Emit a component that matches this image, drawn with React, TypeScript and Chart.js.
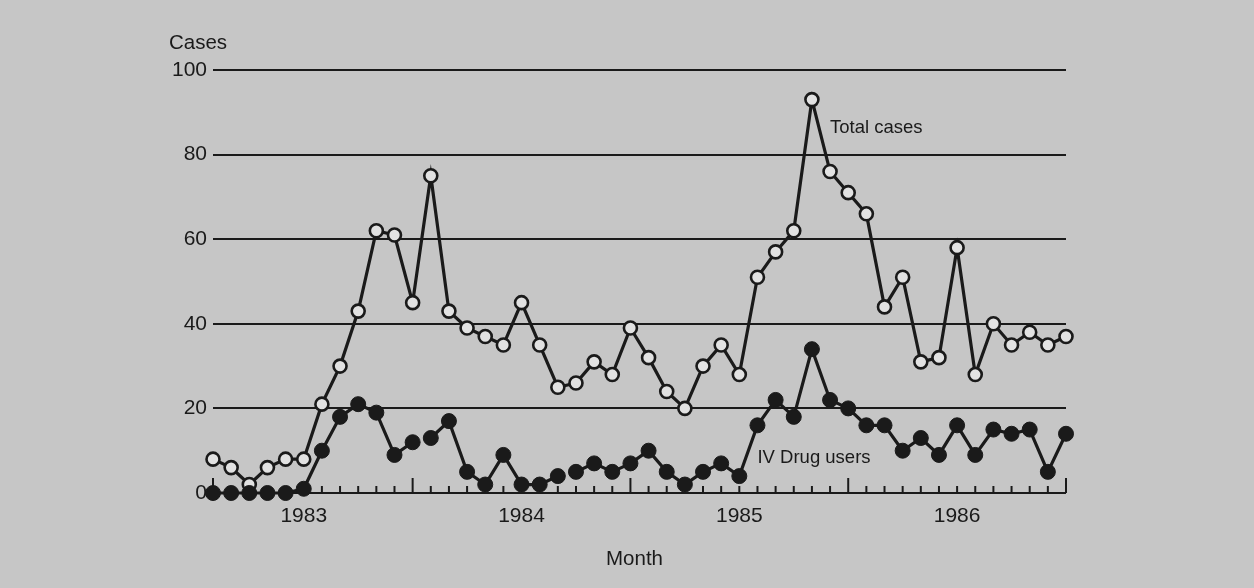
import React, { useEffect, useRef } from "react";
import { Chart, registerables } from "chart.js";

Chart.register(...registerables);

// ---- Data ----
const years = ["1983", "1984", "1985", "1986"];
const monthNames = ["Jan", "Feb", "Mar", "Apr", "May", "Jun", "Jul", "Aug", "Sep", "Oct", "Nov", "Dec"];
const monthLabels = years.flatMap((y) => monthNames.map((m) => `${m} ${y}`));

const totalCases = [
  8, 6, 2, 6, 8, 8, 21, 30, 43, 62, 61, 45,
  75, 43, 39, 37, 35, 45, 35, 25, 26, 31, 28, 39,
  32, 24, 20, 30, 35, 28, 51, 57, 62, 93, 76, 71,
  66, 44, 51, 31, 32, 58, 28, 40, 35, 38, 35, 37,
];

const ivDrugUsers = [
  0, 0, 0, 0, 0, 1, 10, 18, 21, 19, 9, 12,
  13, 17, 5, 2, 9, 2, 2, 4, 5, 7, 5, 7,
  10, 5, 2, 5, 7, 4, 16, 22, 18, 34, 22, 20,
  16, 16, 10, 13, 9, 16, 9, 15, 14, 15, 5, 14,
];

// segments of the IV series that are not connected (index of segment start)
const ivGapsAfter = [11, 19];

const yTicks = [0, 20, 40, 60, 80, 100];
const yearLabelMonth = "Jun";
const majorTickIdx = [0, 11, 23, 35, 47];

const seriesLabels = [
  { text: "Total cases", x: 34, y: 85.2 },
  { text: "IV Drug users", x: 30, y: 7.2 },
];

const INK = "#1a1a1a";
const PAPER = "#c6c6c6";
const FONT = "'Liberation Sans', Arial, Helvetica, sans-serif";

export default function App() {
  const canvasRef = useRef<HTMLCanvasElement | null>(null);

  useEffect(() => {
    if (!canvasRef.current) return;

    const paperPlugin = {
      id: "paper",
      beforeDraw(chart: any) {
        const ctx = chart.ctx;
        ctx.save();
        ctx.fillStyle = PAPER;
        ctx.fillRect(0, 0, chart.width, chart.height);
        ctx.restore();
      },
    };

    const ticksPlugin = {
      id: "insideTicks",
      beforeDatasetsDraw(chart: any) {
        const ctx = chart.ctx;
        const xs = chart.scales.x;
        const ys = chart.scales.y;
        const base = ys.getPixelForValue(0);
        ctx.save();
        ctx.strokeStyle = INK;
        ctx.lineWidth = 2;
        for (let i = 0; i < monthLabels.length; i++) {
          const px = xs.getPixelForValue(i);
          const len = majorTickIdx.includes(i) ? 15 : 7;
          ctx.beginPath();
          ctx.moveTo(px, base);
          ctx.lineTo(px, base - len);
          ctx.stroke();
        }
        ctx.restore();
      },
    };

    const textPlugin = {
      id: "texts",
      afterDraw(chart: any) {
        const ctx = chart.ctx;
        const xs = chart.scales.x;
        const ys = chart.scales.y;
        const area = chart.chartArea;
        ctx.save();
        ctx.fillStyle = INK;
        ctx.textBaseline = "alphabetic";
        ctx.font = `20.5px ${FONT}`;
        ctx.textAlign = "left";
        ctx.fillText("Cases", area.left - 44, area.top - 21.5);
        ctx.textAlign = "center";
        ctx.fillText("Month", (area.left + area.right) / 2 - 5, area.bottom + 72);
        ctx.font = `18.5px ${FONT}`;
        ctx.textAlign = "left";
        for (const l of seriesLabels) {
          ctx.fillText(l.text, xs.getPixelForValue(l.x), ys.getPixelForValue(l.y));
        }
        ctx.restore();
      },
    };

    const chart = new Chart(canvasRef.current, {
      type: "line",
      data: {
        labels: monthLabels,
        datasets: [
          {
            label: "IV Drug users",
            data: ivDrugUsers,
            borderColor: INK,
            borderWidth: 3.2,
            pointRadius: 7.5,
            pointBorderWidth: 1,
            pointBackgroundColor: INK,
            pointBorderColor: INK,
            tension: 0,
            clip: false,
            segment: {
              borderColor: (ctx: any) =>
                ivGapsAfter.includes(ctx.p0DataIndex) ? "rgba(0,0,0,0)" : undefined,
            },
          },
          {
            label: "Total cases",
            data: totalCases,
            borderColor: INK,
            borderWidth: 3.2,
            pointRadius: 6.5,
            pointBorderWidth: 2.6,
            pointBackgroundColor: "#e2e2e2",
            pointBorderColor: INK,
            tension: 0,
            clip: false,
          },
        ],
      },
      options: {
        animation: false,
        responsive: false,
        maintainAspectRatio: false,
        layout: { padding: { top: 70, left: 0, right: 188, bottom: 0 } },
        plugins: { legend: { display: false }, tooltip: { enabled: false } },
        scales: {
          x: {
            type: "category",
            offset: false,
            grid: { display: false, drawTicks: false },
            border: { display: false },
            ticks: {
              autoSkip: false,
              maxRotation: 0,
              padding: 11,
              color: INK,
              font: { family: FONT, size: 21 },
              callback: (_v: any, i: number) => {
                const lab = monthLabels[i];
                return lab.startsWith(yearLabelMonth) ? lab.split(" ")[1] : "";
              },
            },
            afterFit: (s: any) => {
              s.height = 95;
            },
          },
          y: {
            min: 0,
            max: 100,
            afterBuildTicks: (axis: any) => {
              axis.ticks = yTicks.map((v) => ({ value: v }));
            },
            grid: { color: INK, lineWidth: 2, drawTicks: false },
            border: { display: false },
            ticks: {
              padding: 6,
              color: INK,
              font: { family: FONT, size: 21 },
            },
            afterFit: (s: any) => {
              s.width = 213;
            },
          },
        },
      },
      plugins: [paperPlugin, ticksPlugin, textPlugin],
    });

    return () => chart.destroy();
  }, []);

  return (
    <div style={{ position: "fixed", left: 0, top: 0, width: 1254, height: 588, background: PAPER }}>
      <canvas ref={canvasRef} width={1254} height={588} style={{ width: 1254, height: 588, display: "block" }} />
    </div>
  );
}
